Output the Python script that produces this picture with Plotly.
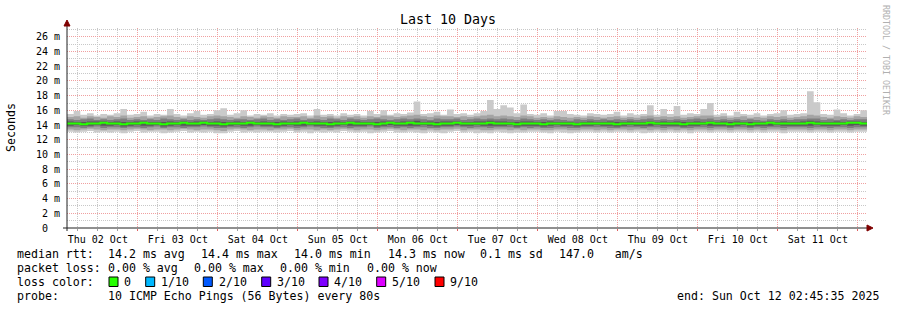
import plotly.graph_objects as go
from datetime import datetime, timedelta

# ---------------- data (ms) ----------------
start = datetime(2025, 10, 2, 2, 45, 35)
end = datetime(2025, 10, 12, 2, 45, 35)
step_hours = 2

# outer ping (max / min)
hi1 = [15.5, 15.9, 15.4, 15.6, 15.3, 15.5, 15.4, 15.6, 16.2, 15.4,
       15.5, 15.8, 15.3, 15.5, 15.4, 16.2, 15.5, 15.3, 15.6, 15.9,
       15.4, 15.5, 16.0, 16.3, 15.4, 15.6, 16.0, 15.3, 15.5, 15.4,
       15.6, 15.3, 15.5, 15.4, 15.5, 15.6, 15.3, 16.2, 15.4, 15.5,
       15.3, 15.6, 15.4, 15.5, 15.3, 15.9, 15.5, 16.0, 15.4, 15.6,
       15.5, 15.7, 17.2, 15.5, 15.6, 15.8, 15.4, 16.1, 15.5, 15.6,
       15.4, 15.6, 15.9, 17.4, 16.2, 16.7, 16.4, 15.6, 16.8, 15.5,
       15.4, 15.6, 15.3, 15.9, 15.9, 15.5, 15.4, 15.3, 15.6, 15.5,
       15.4, 15.5, 15.8, 15.3, 15.6, 15.4, 15.5, 16.7, 15.4, 16.2,
       15.5, 16.6, 15.4, 15.6, 15.5, 16.2, 17.0, 15.4, 15.6, 15.3,
       15.8, 15.5, 15.4, 15.6, 15.3, 15.5, 15.6, 16.0, 15.4, 15.5,
       15.6, 18.6, 17.1, 15.5, 15.4, 16.1, 15.6, 15.3, 15.5, 16.0]
lo1 = [13.1, 13.0, 13.1, 13.2, 13.0, 13.1, 13.0, 13.1, 12.9, 13.1,
       13.2, 13.0, 13.1, 13.1, 12.9, 13.0, 13.1, 13.2, 13.0, 13.1,
       13.0, 13.1, 12.9, 12.9, 13.1, 13.2, 13.0, 13.1, 13.0, 13.1,
       13.1, 13.0, 13.1, 13.2, 13.0, 13.1, 12.9, 13.1, 13.0, 13.1,
       13.0, 13.2, 13.1, 13.0, 13.1, 12.9, 13.0, 13.1, 13.2, 13.0,
       13.0, 13.1, 13.0, 12.9, 13.1, 13.0, 12.9, 13.1, 13.2, 13.0,
       13.1, 12.9, 13.0, 12.9, 13.1, 13.0, 12.9, 13.0, 13.0, 13.1,
       13.1, 13.0, 12.9, 13.1, 13.0, 12.9, 13.0, 13.1, 13.1, 13.0,
       13.1, 13.0, 13.1, 13.1, 13.0, 13.1, 12.9, 13.0, 13.1, 13.0,
       13.1, 13.0, 13.1, 12.9, 13.1, 13.1, 13.0, 13.1, 13.1, 13.0,
       13.1, 13.1, 13.0, 13.1, 13.0, 13.1, 13.1, 12.9, 13.1, 13.1,
       13.1, 13.0, 13.1, 13.1, 13.0, 13.1, 13.1, 13.0, 13.1, 13.1]
# 2nd / 9th ping
hi2 = [15.1, 15.2, 15.0, 15.2, 15.1, 15.0, 15.2, 15.1, 15.3, 15.0,
       15.1, 15.2, 15.0, 15.1, 15.2, 15.3, 15.1, 15.0, 15.2, 15.1,
       15.0, 15.2, 15.3, 15.2, 15.1, 15.0, 15.2, 15.1, 15.0, 15.2,
       15.1, 15.0, 15.2, 15.1, 15.1, 15.2, 15.0, 15.3, 15.1, 15.2,
       15.0, 15.2, 15.1, 15.2, 15.0, 15.2, 15.1, 15.3, 15.2, 15.1,
       15.2, 15.3, 15.4, 15.2, 15.1, 15.3, 15.2, 15.2, 15.1, 15.2,
       15.1, 15.2, 15.3, 15.4, 15.2, 15.3, 15.2, 15.1, 15.3, 15.2,
       15.0, 15.1, 15.0, 15.2, 15.1, 15.0, 15.1, 15.0, 15.2, 15.1,
       15.0, 15.1, 15.2, 15.0, 15.1, 15.0, 15.2, 15.3, 15.1, 15.2,
       15.1, 15.2, 15.0, 15.1, 15.2, 15.3, 15.3, 15.1, 15.2, 15.0,
       15.1, 15.2, 15.0, 15.1, 15.0, 15.2, 15.1, 15.2, 15.0, 15.1,
       15.2, 15.4, 15.3, 15.1, 15.0, 15.2, 15.1, 15.0, 15.2, 15.1]
lo2 = [13.4, 13.3, 13.4, 13.5, 13.4, 13.3, 13.4, 13.4, 13.3, 13.4,
       13.5, 13.4, 13.3, 13.4, 13.4, 13.3, 13.4, 13.5, 13.4, 13.3,
       13.4, 13.4, 13.3, 13.2, 13.4, 13.5, 13.4, 13.3, 13.4, 13.4,
       13.3, 13.4, 13.4, 13.5, 13.3, 13.4, 13.4, 13.3, 13.4, 13.3,
       13.4, 13.5, 13.4, 13.3, 13.4, 13.4, 13.3, 13.4, 13.5, 13.4,
       13.3, 13.4, 13.4, 13.3, 13.4, 13.3, 13.4, 13.4, 13.5, 13.3,
       13.4, 13.4, 13.3, 13.3, 13.4, 13.4, 13.3, 13.4, 13.3, 13.4,
       13.4, 13.3, 13.3, 13.4, 13.4, 13.3, 13.3, 13.4, 13.4, 13.3,
       13.4, 13.3, 13.4, 13.4, 13.3, 13.4, 13.4, 13.3, 13.4, 13.3,
       13.4, 13.3, 13.4, 13.3, 13.4, 13.4, 13.3, 13.4, 13.4, 13.3,
       13.4, 13.4, 13.3, 13.4, 13.3, 13.4, 13.4, 13.3, 13.4, 13.4,
       13.4, 13.3, 13.4, 13.4, 13.3, 13.4, 13.4, 13.3, 13.4, 13.4]
# 3rd / 8th ping
hi3 = [14.8, 14.7, 14.8, 14.9, 14.7, 14.8, 14.7, 14.8, 14.9, 14.7,
       14.8, 14.7, 14.8, 14.7, 14.9, 14.8, 14.7, 14.8, 14.7, 14.8,
       14.7, 14.8, 14.9, 14.8, 14.7, 14.8, 14.8, 14.7, 14.8, 14.9,
       14.7, 14.8, 14.7, 14.8, 14.9, 14.7, 14.8, 14.8, 14.7, 14.9,
       14.8, 14.7, 14.9, 14.8, 14.7, 14.8, 14.9, 14.8, 14.7, 14.8,
       14.9, 14.8, 14.9, 14.8, 14.7, 14.9, 14.8, 14.8, 14.9, 14.7,
       14.8, 14.9, 14.8, 14.9, 14.8, 14.9, 14.8, 14.7, 14.9, 14.8,
       14.7, 14.8, 14.7, 14.8, 14.7, 14.6, 14.8, 14.7, 14.8, 14.7,
       14.8, 14.7, 14.8, 14.7, 14.8, 14.7, 14.8, 14.9, 14.7, 14.8,
       14.7, 14.8, 14.7, 14.8, 14.9, 14.8, 14.9, 14.7, 14.8, 14.7,
       14.8, 14.7, 14.8, 14.7, 14.6, 14.8, 14.7, 14.8, 14.7, 14.8,
       14.8, 14.9, 14.9, 14.7, 14.8, 14.7, 14.8, 14.7, 14.8, 14.8]
lo3 = [13.7, 13.7, 13.6, 13.7, 13.8, 13.6, 13.7, 13.7, 13.6, 13.7,
       13.7, 13.6, 13.7, 13.8, 13.6, 13.7, 13.7, 13.6, 13.7, 13.7,
       13.8, 13.7, 13.6, 13.6, 13.7, 13.7, 13.6, 13.7, 13.8, 13.7,
       13.7, 13.6, 13.7, 13.7, 13.6, 13.7, 13.8, 13.7, 13.6, 13.6,
       13.7, 13.7, 13.6, 13.7, 13.7, 13.8, 13.6, 13.7, 13.7, 13.6,
       13.7, 13.6, 13.7, 13.7, 13.6, 13.6, 13.7, 13.7, 13.8, 13.7,
       13.6, 13.7, 13.7, 13.6, 13.7, 13.7, 13.7, 13.6, 13.7, 13.6,
       13.7, 13.6, 13.6, 13.7, 13.7, 13.6, 13.6, 13.7, 13.7, 13.7,
       13.7, 13.6, 13.6, 13.7, 13.7, 13.7, 13.6, 13.7, 13.7, 13.6,
       13.7, 13.7, 13.6, 13.6, 13.7, 13.7, 13.6, 13.7, 13.7, 13.6,
       13.7, 13.7, 13.6, 13.7, 13.6, 13.7, 13.7, 13.6, 13.7, 13.7,
       13.7, 13.6, 13.7, 13.7, 13.6, 13.7, 13.7, 13.6, 13.7, 13.7]
# 4th / 7th ping
hi4 = [14.5, 14.4, 14.4, 14.5, 14.5, 14.5, 14.4, 14.5, 14.4, 14.4,
       14.5, 14.5, 14.4, 14.4, 14.4, 14.5, 14.4, 14.5, 14.4, 14.5,
       14.5, 14.4, 14.5, 14.4, 14.4, 14.5, 14.4, 14.5, 14.4, 14.5,
       14.4, 14.4, 14.5, 14.4, 14.5, 14.5, 14.4, 14.5, 14.4, 14.4,
       14.5, 14.4, 14.5, 14.5, 14.4, 14.4, 14.4, 14.5, 14.5, 14.4,
       14.5, 14.5, 14.6, 14.4, 14.5, 14.4, 14.5, 14.5, 14.5, 14.4,
       14.4, 14.5, 14.5, 14.6, 14.5, 14.5, 14.4, 14.4, 14.5, 14.5,
       14.4, 14.4, 14.5, 14.4, 14.4, 14.4, 14.3, 14.4, 14.5, 14.4,
       14.4, 14.5, 14.4, 14.4, 14.5, 14.4, 14.4, 14.5, 14.4, 14.5,
       14.4, 14.5, 14.4, 14.4, 14.5, 14.4, 14.5, 14.4, 14.5, 14.4,
       14.5, 14.4, 14.4, 14.4, 14.4, 14.5, 14.4, 14.5, 14.4, 14.4,
       14.5, 14.6, 14.5, 14.4, 14.4, 14.5, 14.4, 14.5, 14.5, 14.4]
lo4 = [13.9, 14.0, 13.9, 13.9, 14.0, 13.9, 13.9, 14.0, 13.8, 13.9,
       14.0, 13.9, 13.9, 14.0, 13.8, 13.9, 14.0, 13.9, 13.9, 13.9,
       14.0, 13.9, 13.9, 13.8, 13.9, 14.0, 13.9, 13.9, 14.0, 13.9,
       13.9, 13.8, 13.9, 14.0, 13.9, 13.9, 14.0, 13.9, 13.9, 13.8,
       13.9, 14.0, 13.9, 13.9, 13.9, 14.0, 13.8, 13.9, 14.0, 13.9,
       13.9, 13.9, 13.9, 14.0, 13.9, 13.8, 13.9, 13.9, 14.0, 13.9,
       13.9, 14.0, 13.9, 13.9, 13.9, 13.9, 14.0, 13.8, 13.9, 13.9,
       13.9, 13.8, 13.9, 14.0, 13.9, 13.9, 13.8, 13.9, 13.9, 14.0,
       13.9, 13.9, 13.8, 13.9, 14.0, 13.9, 13.9, 13.9, 14.0, 13.9,
       13.9, 13.9, 13.8, 13.9, 13.9, 14.0, 13.9, 13.9, 13.9, 13.8,
       13.9, 14.0, 13.8, 13.9, 13.9, 13.9, 14.0, 13.9, 13.9, 13.9,
       13.9, 13.9, 14.0, 13.9, 13.9, 13.9, 14.0, 13.9, 14.0, 13.9]
# median rtt
median = [14.2, 14.2, 14.1, 14.2, 14.2, 14.3, 14.2, 14.2, 14.1, 14.2,
          14.2, 14.3, 14.2, 14.2, 14.1, 14.2, 14.2, 14.3, 14.2, 14.2,
          14.3, 14.2, 14.2, 14.1, 14.2, 14.2, 14.2, 14.3, 14.2, 14.2,
          14.2, 14.1, 14.2, 14.2, 14.2, 14.3, 14.2, 14.2, 14.2, 14.1,
          14.2, 14.2, 14.3, 14.2, 14.2, 14.2, 14.1, 14.2, 14.3, 14.2,
          14.2, 14.3, 14.2, 14.2, 14.2, 14.1, 14.2, 14.2, 14.3, 14.2,
          14.2, 14.2, 14.2, 14.3, 14.2, 14.2, 14.2, 14.1, 14.2, 14.2,
          14.2, 14.1, 14.2, 14.2, 14.2, 14.2, 14.1, 14.2, 14.2, 14.2,
          14.2, 14.2, 14.1, 14.2, 14.2, 14.2, 14.2, 14.3, 14.2, 14.2,
          14.2, 14.2, 14.1, 14.2, 14.2, 14.2, 14.3, 14.2, 14.2, 14.1,
          14.2, 14.2, 14.1, 14.2, 14.2, 14.3, 14.2, 14.2, 14.2, 14.2,
          14.2, 14.3, 14.2, 14.2, 14.2, 14.2, 14.2, 14.3, 14.3, 14.2]

y_tick_vals = [0, 2, 4, 6, 8, 10, 12, 14, 16, 18, 20, 22, 24, 26]
y_tick_text = ["0\u00a0\u00a0", "2 m", "4 m", "6 m", "8 m", "10 m", "12 m", "14 m",
               "16 m", "18 m", "20 m", "22 m", "24 m", "26 m"]

rtt_legend = ["14.2 ms avg", "14.4 ms max", "14.0 ms min", "14.3 ms now",
              "0.1 ms sd", "147.0\u00a0\u00a0\u00a0am/s"]
loss_legend = ["0.00 % avg", "0.00 % max", "0.00 % min", "0.00 % now"]
loss_names = ["0", "1/10", "2/10", "3/10", "4/10", "5/10", "9/10"]
loss_colors = ["#26ff00", "#00b8ff", "#0059ff", "#5e00ff", "#7e00ff", "#dd00ff", "#ff0000"]
probe_text = "10 ICMP Echo Pings (56 Bytes) every 80s"
end_text = "end: Sun Oct 12 02:45:35 2025"

# ---------------- geometry helpers ----------------
W, H = 897, 310
L, R, T, B = 67, 30, 28, 82
PW, PH = W - L - R, H - T - B
YMAX = PH / 7.353


def px(x):
    return (x - L) / PW


def py(y):
    return (T + PH - y) / PH


times = [start + timedelta(hours=step_hours * i) for i in range(len(median))] + [end]


def st(v):
    return list(v) + [v[-1]]


# minor grid positions (those not on a major line)
y_minor = [v for v in range(1, int(YMAX) + 1) if v not in y_tick_vals]
day0 = datetime(2025, 10, 2)
x_minor = [day0 + timedelta(hours=6 * k) for k in range(0, 45) if k % 4 != 0]

MONO = "DejaVu Sans Mono"
fig = go.Figure()

bands = [(lo1, hi1, "#cacaca"), (lo2, hi2, "#a4a4a4"), (lo3, hi3, "#7e7e7e"), (lo4, hi4, "#585858")]
for lo, hi, col in bands:
    fig.add_trace(go.Scatter(x=times, y=st(lo), mode="lines", line=dict(width=0, shape="hv"),
                             hoverinfo="skip", showlegend=False))
    fig.add_trace(go.Scatter(x=times, y=st(hi), mode="lines", line=dict(width=0, shape="hv"),
                             fill="tonexty", fillcolor=col, hoverinfo="skip", showlegend=False))

fig.add_trace(go.Scatter(x=times, y=st(median), mode="lines",
                         line=dict(color=loss_colors[0], width=2, shape="hv"),
                         hoverinfo="skip", showlegend=False))

MAJ = "#f0a0a0"
MIN = "#c8c8c8"

fig.update_layout(
    width=W, height=H, autosize=False,
    margin=dict(l=L, r=R, t=T, b=B, pad=0),
    paper_bgcolor="white", plot_bgcolor="white",
    showlegend=False,
    font=dict(family=MONO, size=10, color="black"),
    xaxis=dict(
        type="date", range=[start, end],
        tick0="2025-10-02", dtick=86400000, tickformat="%a %d %b", ticklabelmode="period",
        showgrid=True, gridcolor=MAJ, griddash="1px,1px", gridwidth=1,
        ticks="outside", ticklen=2, tickcolor="#e06060",
        minor=dict(tickmode="array", tickvals=x_minor, showgrid=True, gridcolor=MIN,
                   griddash="1px,1px", ticks="outside", ticklen=2, tickcolor="#a0a0a0"),
        tickfont=dict(family=MONO, size=10, color="black"),
        zeroline=False, showline=False, fixedrange=True,
    ),
    yaxis=dict(
        range=[0, YMAX],
        tickmode="array", tickvals=y_tick_vals, ticktext=y_tick_text,
        showgrid=True, gridcolor=MAJ, griddash="1px,1px", gridwidth=1,
        minor=dict(tickmode="array", tickvals=y_minor, showgrid=True, gridcolor=MIN,
                   griddash="1px,1px"),
        ticks="outside", ticklen=4, tickcolor="rgba(0,0,0,0)",
        tickfont=dict(family=MONO, size=10, color="black"),
        zeroline=False, showline=False, fixedrange=True,
    ),
)

AX = "#212121"
ARROW = "#7f0000"
shapes = [
    dict(type="line", xref="paper", yref="paper", x0=px(63), x1=px(869), y0=py(228), y1=py(228),
         line=dict(color=AX, width=1)),
    dict(type="line", xref="paper", yref="paper", x0=px(67), x1=px(67), y0=py(231), y1=py(24),
         line=dict(color=AX, width=1)),
    dict(type="path", xref="paper", yref="paper",
         path=f"M {px(867)},{py(225)} L {px(873)},{py(228)} L {px(867)},{py(231)} Z",
         fillcolor=ARROW, line=dict(color=ARROW, width=1)),
    dict(type="path", xref="paper", yref="paper",
         path=f"M {px(64)},{py(26)} L {px(67)},{py(20)} L {px(70)},{py(26)} Z",
         fillcolor=ARROW, line=dict(color=ARROW, width=1)),
]

ann = []


def text(x, y, s, anchor="left", size=11.6, color="black", angle=0, yanchor="middle"):
    ann.append(dict(x=px(x), y=py(y), xref="paper", yref="paper", text=s, showarrow=False,
                    xanchor=anchor, yanchor=yanchor, textangle=angle,
                    font=dict(family=MONO, size=size, color=color), borderpad=0))


text(448, 20, "Last 10 Days", anchor="center", size=13.3)
text(11, 127, "Seconds", anchor="center", angle=-90)
text(886, 60, "RRDTOOL / TOBI OETIKER", anchor="center", size=8.3, color="#b0b0b0", angle=90)

# legend line 1
text(16, 254.3, "median rtt:")
for s, x in zip(rtt_legend, [107.3, 200, 293, 386.7, 479.3, 558.3]):
    text(x, 254.3, s)
# line 2
text(16, 268.3, "packet loss:")
for s, x in zip(loss_legend, [107.3, 193.3, 279.3, 365.7]):
    text(x, 268.3, s)
# line 3
text(16, 282.3, "loss color:")
box_x = [109, 145.7, 203.3, 261.7, 319, 376.7, 435]
for name, col, bx in zip(loss_names, loss_colors, box_x):
    shapes.append(dict(type="rect", xref="paper", yref="paper",
                       x0=px(bx), x1=px(bx + 9), y0=py(286.5), y1=py(277),
                       fillcolor=col, line=dict(color="black", width=1)))
    text(bx + 14.3, 282.3, name)
# line 4
text(16, 296, "probe:")
text(107.3, 296, probe_text)
text(880, 296, end_text, anchor="right")

fig.update_layout(shapes=shapes, annotations=ann)
fig.write_html("out.html")
